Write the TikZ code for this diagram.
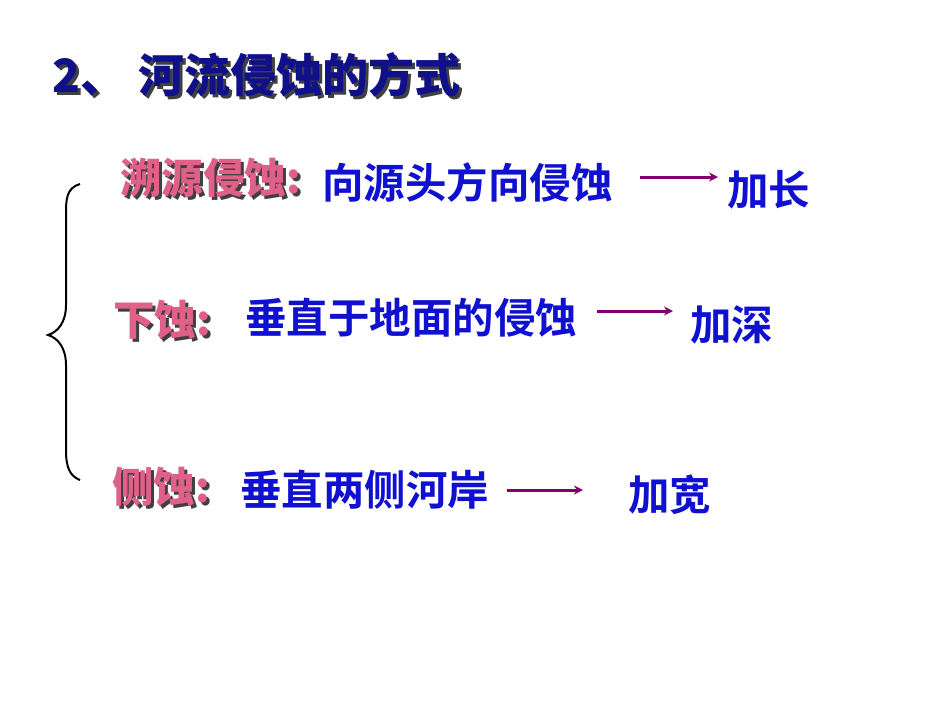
\documentclass[tikz,border=0pt]{standalone}
\usepackage{fontspec}
\newfontfamily\cjk{Noto Sans CJK SC Bold}
\newfontfamily\cjkb{Noto Sans CJK SC Black}
\definecolor{ttl}{HTML}{10108A}
\definecolor{pnk}{HTML}{E0608A}
\definecolor{blu}{HTML}{1010D0}
\definecolor{arr}{HTML}{800070}
\tikzset{
 ttl/.style={anchor=west,inner sep=0,font=\cjkb\fontsize{46}{50}\selectfont,text=ttl},
 sh/.style={anchor=west,inner sep=0,text=black!75},
 lab/.style={anchor=west,inner sep=0,font=\cjkb\fontsize{41.5}{44}\selectfont,text=pnk},
 txt/.style={anchor=west,inner sep=0,font=\cjk\fontsize{41.5}{44}\selectfont,text=blu},
 res/.style={anchor=west,inner sep=0,font=\cjk\fontsize{41.5}{44}\selectfont,text=blu},
 con/.style={draw=arr,line width=3pt,-{Stealth[length=9pt,width=9pt]}}
}
\usetikzlibrary{arrows.meta}
\begin{document}
\begin{tikzpicture}[x=1pt,y=-1pt]
\useasboundingbox[fill=white] (0,0) rectangle (950,713);
\node[ttl,sh,font=\cjkb\fontsize{46}{50}\selectfont] at (55,78) {2、\hspace{12pt}河流侵蚀的方式};
\node[ttl] (t) at (52,75) {2、\hspace{12pt}河流侵蚀的方式};
% rows
\node[lab,sh,font=\cjkb\fontsize{41.5}{44}\selectfont] at (123,181) {溯源侵蚀:};
\node[lab] (l1) at (120,178) {溯源侵蚀:};
\node[txt] (a1) at (322,183) {向源头方向侵蚀};
\node[res] (r1) at (727,190) {加长};
\coordinate (s1) at (640,177); \coordinate (e1) at (718,177);
\draw[con] (s1) -- (e1);
\node[lab,sh,font=\cjkb\fontsize{41.5}{44}\selectfont] at (116,323) {下蚀:};
\node[lab] (l2) at (113,320) {下蚀:};
\node[txt] (a2) at (245,318) {垂直于地面的侵蚀};
\node[res] (r2) at (690,325) {加深};
\coordinate (s2) at (597,311); \coordinate (e2) at (673,311);
\draw[con] (s2) -- (e2);
\node[lab,sh,font=\cjkb\fontsize{41.5}{44}\selectfont] at (115,490) {侧蚀:};
\node[lab] (l3) at (112,487) {侧蚀:};
\node[txt] (a3) at (240,490) {垂直两侧河岸};
\node[res] (r3) at (628,495) {加宽};
\coordinate (s3) at (507,490); \coordinate (e3) at (583,490);
\draw[con] (s3) -- (e3);
% brace
\draw[line width=2pt] (80,184) .. controls (66,188) and (66,200) .. (66,215)
 -- (66,305) .. controls (66,322) and (58,332) .. (48,335)
 .. controls (58,338) and (66,348) .. (66,365) -- (66,450)
 .. controls (66,468) and (70,476) .. (80,480);
\end{tikzpicture}
\end{document}
